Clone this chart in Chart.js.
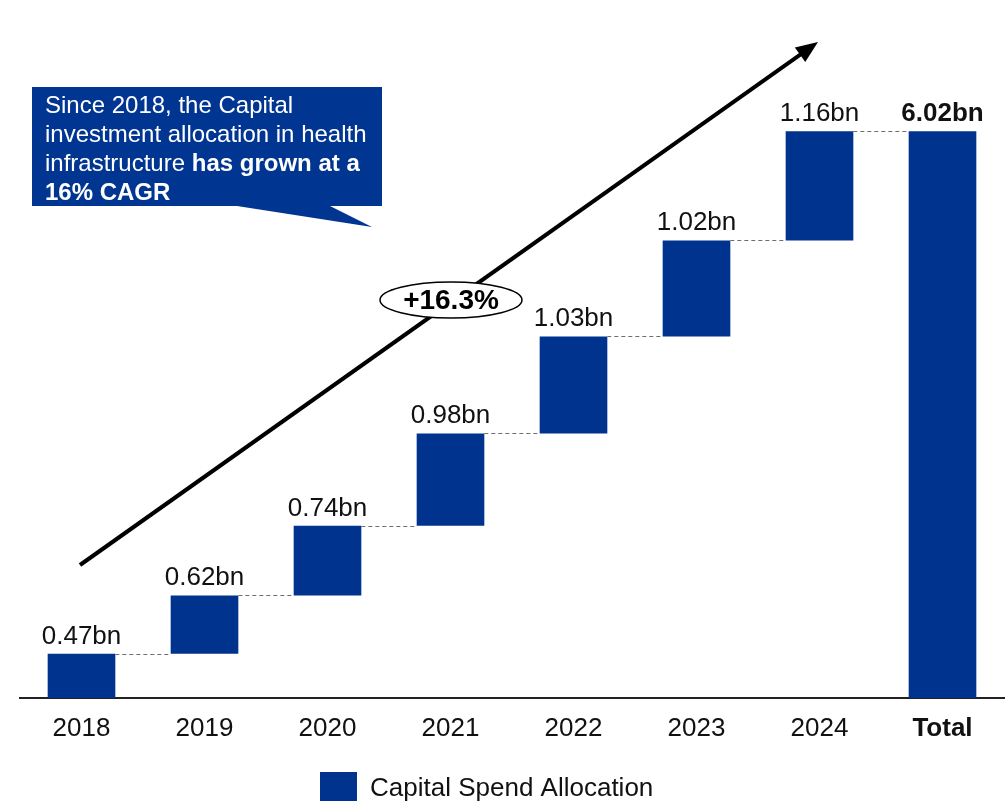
<!DOCTYPE html>
<html>
<head>
<meta charset="utf-8">
<script src="https://cdn.jsdelivr.net/npm/chart.js@4.4.1/dist/chart.umd.min.js"></script>
<style>
html, body {margin:0; padding:0; background:#fff;}
</style>
</head>
<body>
<canvas id="capChart" width="1008" height="803"></canvas>
<script>
const years = ['2018', '2019', '2020', '2021', '2022', '2023', '2024', 'Total']
const increments = [0.47, 0.62, 0.74, 0.98, 1.03, 1.02, 1.16]
const totalValue = 6.02
const valueLabels = ['0.47bn', '0.62bn', '0.74bn', '0.98bn', '1.03bn', '1.02bn', '1.16bn', '6.02bn']
const cagrLabel = '+16.3%'
const seriesName = 'Capital Spend Allocation'

const barColor = '#00338D'
const font = 'Liberation Sans, Arial, sans-serif'

// floating bars: [start, end]
var running = 0
const ranges = increments.map(v => {
    const r = [running, running + v]
    running += v
    return r
})
ranges.push([0, totalValue])

const waterfallExtras = {
    id: 'waterfallExtras',
    afterDatasetsDraw(chart) {
        const ctx = chart.ctx
        const bars = chart.getDatasetMeta(0).data
        const yScale = chart.scales.y
        ctx.save()
        // dashed connectors
        ctx.strokeStyle = '#6e6e6e'
        ctx.lineWidth = 1
        ctx.setLineDash([4, 3])
        for (let i = 0; i < bars.length - 1; i++) {
            const y = Math.round(yScale.getPixelForValue(ranges[i][1])) + 0.5
            ctx.beginPath()
            ctx.moveTo(bars[i].x + bars[i].width / 2, y)
            ctx.lineTo(bars[i + 1].x - bars[i + 1].width / 2, y)
            ctx.stroke()
        }
        ctx.setLineDash([])
        // value labels
        ctx.fillStyle = '#111'
        ctx.textAlign = 'center'
        ctx.textBaseline = 'alphabetic'
        bars.forEach((b, i) => {
            const last = i === bars.length - 1
            ctx.font = (last ? 'bold ' : '') + '26px ' + font
            ctx.fillText(valueLabels[i], b.x, b.y - 10)
        })
        ctx.restore()
    },
    afterDraw(chart) {
        const ctx = chart.ctx
        ctx.save()
        // growth arrow
        const x0 = 80, y0 = 565, x1 = 818, y1 = 42
        const len = Math.hypot(x1 - x0, y1 - y0)
        const ux = (x1 - x0) / len, uy = (y1 - y0) / len
        const head = 22, half = 9
        ctx.strokeStyle = '#000'
        ctx.lineWidth = 4
        ctx.beginPath()
        ctx.moveTo(x0, y0)
        ctx.lineTo(x1 - ux * (head - 2), y1 - uy * (head - 2))
        ctx.stroke()
        ctx.fillStyle = '#000'
        ctx.beginPath()
        ctx.moveTo(x1, y1)
        ctx.lineTo(x1 - ux * head - uy * half, y1 - uy * head + ux * half)
        ctx.lineTo(x1 - ux * head + uy * half, y1 - uy * head - ux * half)
        ctx.closePath()
        ctx.fill()

        // CAGR ellipse
        ctx.fillStyle = '#fff'
        ctx.strokeStyle = '#000'
        ctx.lineWidth = 1.5
        ctx.beginPath()
        ctx.ellipse(451, 300, 71, 18, 0, 0, Math.PI * 2)
        ctx.fill()
        ctx.stroke()
        ctx.fillStyle = '#000'
        ctx.font = 'bold 28px ' + font
        ctx.textAlign = 'center'
        ctx.textBaseline = 'middle'
        ctx.fillText(cagrLabel, 451, 301)

        // callout box
        ctx.fillStyle = '#003591'
        ctx.beginPath()
        ctx.moveTo(32, 87)
        ctx.lineTo(382, 87)
        ctx.lineTo(382, 206)
        ctx.lineTo(330, 206)
        ctx.lineTo(372, 227)
        ctx.lineTo(237, 206)
        ctx.lineTo(32, 206)
        ctx.closePath()
        ctx.fill()
        ctx.fillStyle = '#fff'
        ctx.textAlign = 'left'
        ctx.textBaseline = 'alphabetic'
        ctx.font = '24px ' + font
        ctx.fillText('Since 2018, the Capital', 45, 113)
        ctx.fillText('investment allocation in health', 45, 142)
        ctx.fillText('infrastructure ', 45, 171)
        const w = ctx.measureText('infrastructure ').width
        ctx.font = 'bold 24px ' + font
        ctx.fillText('has grown at a', 45 + w, 171)
        ctx.fillText('16% CAGR', 45, 200)

        // legend
        const ds = chart.data.datasets[0]
        ctx.fillStyle = ds.backgroundColor
        ctx.fillRect(320, 772, 37, 29)
        ctx.fillStyle = '#111'
        ctx.font = '26px ' + font
        ctx.textBaseline = 'middle'
        ctx.fillText(ds.label, 370, 789)
        ctx.restore()
    }
}

const capctx = document.getElementById('capChart').getContext('2d')
const capChart = new Chart(capctx, {
    type: 'bar',
    data: {
        labels: years,
        datasets: [{
            label: seriesName,
            data: ranges,
            backgroundColor: barColor,
            borderWidth: 0,
            categoryPercentage: 1,
            barPercentage: 0.55
        }]
    },
    options: {
        responsive: false,
        animation: false,
        layout: {padding: {top: 39, left: 20, right: 4, bottom: 0}},
        plugins: {
            legend: {display: false},
            tooltip: {enabled: false}
        },
        scales: {
            x: {
                grid: {display: false, drawTicks: false},
                border: {display: true, color: '#222', width: 2},
                ticks: {
                    color: '#111',
                    padding: 15,
                    font: (c) => ({family: font, size: 26, weight: c.index === 7 ? 'bold' : 'normal'})
                },
                afterFit: (scale) => { scale.height = 105 }
            },
            y: {
                display: false,
                min: 0,
                max: 7
            }
        }
    },
    plugins: [waterfallExtras]
})
</script>
</body>
</html>
